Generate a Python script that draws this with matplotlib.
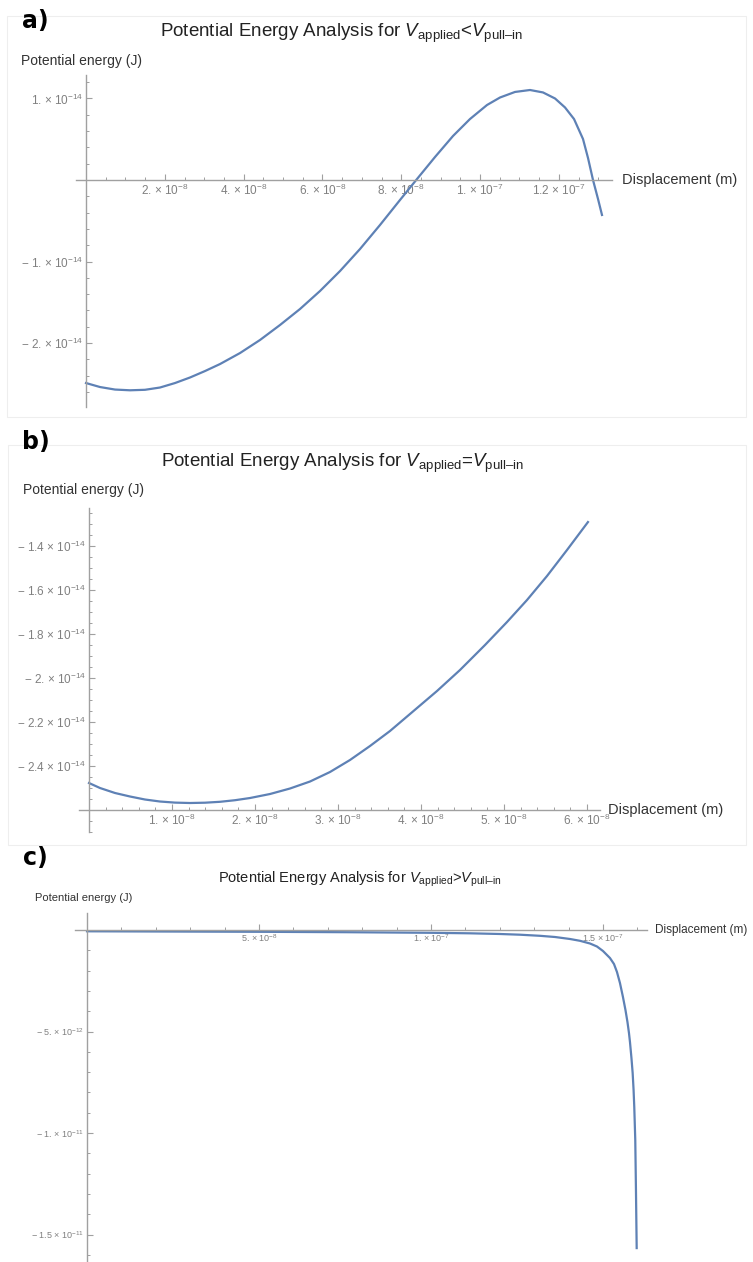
import matplotlib
matplotlib.use("Agg")
import matplotlib.pyplot as plt
from matplotlib.ticker import FixedLocator, MultipleLocator
from matplotlib.patches import Rectangle

plt.rcParams['font.family'] = ['Liberation Sans', 'DejaVu Sans']
plt.rcParams['mathtext.fontset'] = 'custom'
plt.rcParams['mathtext.rm'] = 'Liberation Sans'
plt.rcParams['mathtext.it'] = 'Liberation Sans:italic'
plt.rcParams['mathtext.bf'] = 'Liberation Sans:bold'

# ---------------- data ----------------
# panel a: V_applied < V_pull-in   (x in m, y in J)
a_x = [0.0, 0.355e-8, 0.736e-8, 1.117e-8, 1.497e-8, 1.878e-8, 2.259e-8, 2.640e-8,
       3.020e-8, 3.401e-8, 3.909e-8, 4.416e-8, 4.924e-8, 5.431e-8, 5.939e-8, 6.447e-8,
       6.954e-8, 7.462e-8, 7.970e-8, 8.401e-8, 8.858e-8, 9.315e-8, 9.746e-8, 10.178e-8,
       10.508e-8, 10.888e-8, 11.269e-8, 11.599e-8, 11.904e-8, 12.157e-8, 12.386e-8,
       12.614e-8, 12.741e-8, 12.868e-8, 12.995e-8, 13.096e-8]
a_y = [-2.491e-14, -2.540e-14, -2.571e-14, -2.580e-14, -2.574e-14, -2.546e-14, -2.491e-14,
       -2.423e-14, -2.344e-14, -2.258e-14, -2.123e-14, -1.963e-14, -1.779e-14, -1.583e-14,
       -1.362e-14, -1.117e-14, -0.847e-14, -0.552e-14, -0.245e-14, 0.012e-14, 0.282e-14,
       0.540e-14, 0.748e-14, 0.920e-14, 1.012e-14, 1.080e-14, 1.104e-14, 1.074e-14,
       1.000e-14, 0.890e-14, 0.748e-14, 0.503e-14, 0.270e-14, 0.0, -0.233e-14, -0.429e-14]
a_xticks = [2e-8, 4e-8, 6e-8, 8e-8, 1e-7, 1.2e-7]
a_xlabels = ["2. × 10$^{-8}$", "4. × 10$^{-8}$", "6. × 10$^{-8}$",
             "8. × 10$^{-8}$", "1. × 10$^{-7}$", "1.2 × 10$^{-7}$"]
a_yticks = [1e-14, -1e-14, -2e-14]
a_ylabels = ["1. × 10$^{-14}$", "− 1. × 10$^{-14}$", "− 2. × 10$^{-14}$"]

# panel b: V_applied = V_pull-in
b_x = [0.0, 0.1325e-8, 0.3133e-8, 0.494e-8, 0.6747e-8, 0.8554e-8, 1.0361e-8, 1.2169e-8,
       1.3976e-8, 1.5783e-8, 1.759e-8, 1.9398e-8, 2.1807e-8, 2.4217e-8, 2.6627e-8,
       2.9036e-8, 3.1446e-8, 3.3855e-8, 3.6265e-8, 3.8675e-8, 4.1928e-8, 4.4699e-8,
       4.7711e-8, 5.0361e-8, 5.2771e-8, 5.5181e-8, 5.759e-8, 6.012e-8]
b_y = [-2.4773e-14, -2.5000e-14, -2.5227e-14, -2.5386e-14, -2.5523e-14, -2.5614e-14,
       -2.5664e-14, -2.5682e-14, -2.5668e-14, -2.5627e-14, -2.5555e-14, -2.5455e-14,
       -2.5273e-14, -2.5023e-14, -2.4705e-14, -2.4273e-14, -2.3727e-14, -2.3091e-14,
       -2.2409e-14, -2.1636e-14, -2.0591e-14, -1.9636e-14, -1.8500e-14, -1.7455e-14,
       -1.6455e-14, -1.5364e-14, -1.4182e-14, -1.2909e-14]
b_xticks = [1e-8, 2e-8, 3e-8, 4e-8, 5e-8, 6e-8]
b_xlabels = ["1. × 10$^{-8}$", "2. × 10$^{-8}$", "3. × 10$^{-8}$",
             "4. × 10$^{-8}$", "5. × 10$^{-8}$", "6. × 10$^{-8}$"]
b_yticks = [-1.4e-14, -1.6e-14, -1.8e-14, -2.0e-14, -2.2e-14, -2.4e-14]
b_ylabels = ["− 1.4 × 10$^{-14}$", "− 1.6 × 10$^{-14}$", "− 1.8 × 10$^{-14}$",
             "− 2. × 10$^{-14}$", "− 2.2 × 10$^{-14}$", "− 2.4 × 10$^{-14}$"]

# panel c: V_applied > V_pull-in
c_x = [0.0, 50.0e-9, 75.0e-9, 100.0e-9, 111.34e-9, 120.06e-9, 125.87e-9, 131.69e-9,
       136.05e-9, 140.41e-9, 143.31e-9, 146.22e-9, 148.26e-9, 150.0e-9, 152.03e-9,
       153.2e-9, 154.07e-9, 154.94e-9, 155.81e-9, 156.54e-9, 157.12e-9, 157.56e-9,
       157.85e-9, 158.28e-9, 158.63e-9, 158.90e-9, 159.10e-9, 159.39e-9, 159.59e-9,
       159.80e-9]
c_y = [-0.064e-12, -0.089e-12, -0.108e-12, -0.138e-12, -0.163e-12, -0.197e-12, -0.232e-12,
       -0.286e-12, -0.345e-12, -0.443e-12, -0.532e-12, -0.665e-12, -0.813e-12, -1.034e-12,
       -1.379e-12, -1.675e-12, -2.069e-12, -2.611e-12, -3.300e-12, -3.941e-12, -4.532e-12,
       -5.074e-12, -5.517e-12, -6.305e-12, -7.044e-12, -7.882e-12, -8.719e-12, -10.345e-12,
       -12.808e-12, -15.665e-12]
c_xticks = [5e-8, 1e-7, 1.5e-7]
c_xlabels = ["5. × 10$^{-8}$", "1. × 10$^{-7}$", "1.5 × 10$^{-7}$"]
c_yticks = [-5e-12, -1e-11, -1.5e-11]
c_ylabels = ["− 5. × 10$^{-12}$", "− 1. × 10$^{-11}$", "− 1.5 × 10$^{-11}$"]

# ---------------- figure ----------------
W, H = 753, 1262
fig = plt.figure(figsize=(W / 100, H / 100), dpi=100)

LINE = '#5E81B5'
AXC = '#a0a0a0'
TICKC = '#808080'
LABC = '#333333'


def fx(x):
    return x / W


def fy(y):
    return 1 - y / H


def px_axes(l, t, r, b):
    return fig.add_axes([l / W, 1 - b / H, (r - l) / W, (b - t) / H])


def style(ax, xlim, ylim, xorigin, yorigin, xt, xl, yt, yl, xminor, yminor, fs):
    ax.set_xlim(*xlim)
    ax.set_ylim(*ylim)
    ax.patch.set_alpha(0)
    for s in ('top', 'right'):
        ax.spines[s].set_visible(False)
    ax.spines['left'].set_position(('data', xorigin))
    ax.spines['bottom'].set_position(('data', yorigin))
    for s in ('left', 'bottom'):
        ax.spines[s].set_color(AXC)
        ax.spines[s].set_linewidth(1.0)
    ax.xaxis.set_major_locator(FixedLocator(xt))
    ax.set_xticklabels(xl)
    ax.yaxis.set_major_locator(FixedLocator(yt))
    ax.set_yticklabels(yl)
    ax.xaxis.set_minor_locator(MultipleLocator(xminor))
    ax.yaxis.set_minor_locator(MultipleLocator(yminor))
    ax.tick_params(which='major', direction='in', length=4, width=0.8, color=AXC,
                   labelcolor=TICKC, labelsize=fs, pad=2)
    ax.tick_params(which='minor', direction='in', length=2, width=0.7, color=AXC)


# faint frames around screenshots a and b
fig.patches.append(Rectangle((fx(7), fy(417)), (746 - 7) / W, (417 - 16) / H,
                             transform=fig.transFigure, fill=False,
                             edgecolor='#eeeeee', lw=0.8))
fig.patches.append(Rectangle((fx(8), fy(845)), (746 - 8) / W, (845 - 445) / H,
                             transform=fig.transFigure, fill=False,
                             edgecolor='#eeeeee', lw=0.8))

# ---- panel a ----
axa = px_axes(76, 75, 612, 407)
axa.plot(a_x, a_y, color=LINE, lw=1.6)
style(axa, (-2.54e-9, 1.335e-7), (-2.785e-14, 1.288e-14), 0, 0,
      a_xticks, a_xlabels, a_yticks, a_ylabels, 0.5e-8, 0.2e-14, 8.5)

fig.text(fx(22), fy(21), "a)", fontsize=17, fontweight='bold', family='DejaVu Sans',
         va='center', ha='left')
fig.text(fx(341), fy(33),
         r"Potential Energy Analysis for $\mathit{V}_{\mathrm{applied}}$<$\mathit{V}_{\mathrm{pull–in}}$",
         fontsize=13.5, color='#222222', ha='center', va='center')
fig.text(fx(21), fy(61), "Potential energy (J)", fontsize=10, color=LABC, ha='left', va='center')
fig.text(fx(622), fy(180), "Displacement (m)", fontsize=10.5, color=LABC, ha='left', va='center')

# ---- panel b ----
axb = px_axes(79, 508, 600, 832)
axb.plot(b_x, b_y, color=LINE, lw=1.6)
style(axb, (-1.205e-9, 6.157e-8), (-2.7e-14, -1.227e-14), 0, -2.6e-14,
      b_xticks, b_xlabels, b_yticks, b_ylabels, 0.2e-8, 0.05e-14, 8.5)

fig.text(fx(22), fy(442), "b)", fontsize=17, fontweight='bold', family='DejaVu Sans',
         va='center', ha='left')
fig.text(fx(342), fy(463),
         r"Potential Energy Analysis for $\mathit{V}_{\mathrm{applied}}$=$\mathit{V}_{\mathrm{pull–in}}$",
         fontsize=13.5, color='#222222', ha='center', va='center')
fig.text(fx(23), fy(490), "Potential energy (J)", fontsize=10, color=LABC, ha='left', va='center')
fig.text(fx(608), fy(810), "Displacement (m)", fontsize=10.5, color=LABC, ha='left', va='center')

# ---- panel c ----
axc = px_axes(75, 913, 647, 1262)
axc.plot(c_x, c_y, color=LINE, lw=1.6)
style(axc, (-3.49e-9, 1.628e-7), (-16.35e-12, 0.837e-12), 0, 0,
      c_xticks, c_xlabels, c_yticks, c_ylabels, 1e-8, 1e-12, 6.5)

fig.text(fx(23), fy(858), "c)", fontsize=17, fontweight='bold', family='DejaVu Sans',
         va='center', ha='left')
fig.text(fx(360), fy(879),
         r"Potential Energy Analysis for $\mathit{V}_{\mathrm{applied}}$>$\mathit{V}_{\mathrm{pull–in}}$",
         fontsize=10.5, color='#222222', ha='center', va='center')
fig.text(fx(35), fy(898), "Potential energy (J)", fontsize=8, color=LABC, ha='left', va='center')
fig.text(fx(655), fy(930), "Displacement (m)", fontsize=8.5, color=LABC, ha='left', va='center')

fig.savefig("out.png", dpi=100, facecolor='white')
